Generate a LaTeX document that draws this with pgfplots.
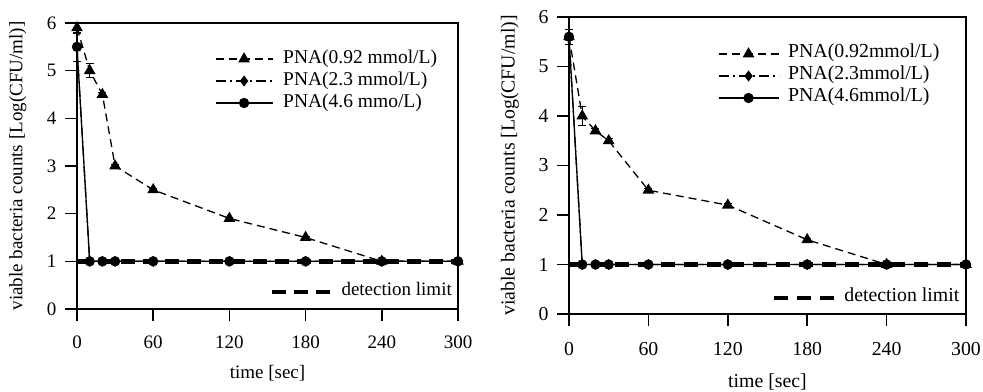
\documentclass[border=0pt]{standalone}
\usepackage{fontspec}
\setmainfont{Liberation Serif}
\usepackage{pgfplots}
\pgfplotsset{compat=1.18}
\newcommand{\sizeLeft}{\fontsize{19bp}{22bp}\selectfont}
\newcommand{\sizeLeg}{\fontsize{19.5bp}{22bp}\selectfont}
\newcommand{\sizeRight}{\fontsize{19.8bp}{23bp}\selectfont}
\pgfplotsset{
  mystyle/.style={
    scale only axis, xmin=0, xmax=300, ymin=0, ymax=6,
    xtick={0,60,120,180,240,300}, ytick={0,1,2,3,4,5,6},
    tick align=outside, tick pos=left,
    major tick length=12bp,
    axis line style={line width=1.6bp},
    tick style={line width=1.6bp, black},
    /pgf/number format/assume math mode=true,
    clip=false,
    xticklabel style={yshift=-8bp},
    yticklabel style={xshift=-2bp},
    every axis y label/.style={at={(axis description cs:#1,0.5)}, rotate=90, anchor=center},
    every axis x label/.style={at={(axis description cs:0.5,-0.224)}, anchor=center},
    legend cell align=left,
    legend style={draw=none, fill=none, inner sep=0pt, outer sep=0pt, row sep=0pt,
      anchor=north west,
      nodes={inner sep=0pt, text height=15bp, text depth=7bp}},
  },
  hid/.style={scale only axis, xmin=0,xmax=300,ymin=0,ymax=6, hide axis, clip=false,
    legend cell align=left,
    legend style={draw=none, fill=none, inner sep=0pt, outer sep=0pt, anchor=north west,
      nodes={inner sep=0pt, text height=15bp, text depth=7bp}}},
  sA/.style={black, line width=1.3bp, dash pattern=on 8bp off 5bp, mark=triangle*, mark size=5.5bp, mark options={solid, fill=black}},
  sB/.style={black, line width=1.3bp, dash pattern=on 10bp off 4bp on 2bp off 4bp, mark=diamond*, mark size=4.5bp, mark options={solid, fill=black}},
  sC/.style={black, line width=1.3bp, solid, mark=*, mark size=4.5bp, mark options={solid, fill=black}},
  eb/.style={error bars/.cd, y dir=both, y explicit, error bar style={line width=1bp, solid}, error mark options={rotate=90, mark size=4bp, line width=1bp, solid}},
  dl/.style={black, line width=4.5bp, dash pattern=on 14bp off 8bp},
}
\begin{document}
\sizeLeft
\begin{tikzpicture}[font=\sizeLeft]
\useasboundingbox (0bp,0bp) rectangle (983bp,-392bp);
% ---------- left ----------
\begin{axis}[hid, at={(77bp,-309bp)}, anchor=south west, width=381bp, height=286bp,
  legend style={at={(axis description cs:0.5066,0.098)}, font=\sizeLeft, column sep=9bp},
  legend image code/.code={\draw[#1] (0bp,0bp) -- (58bp,0bp);}]
\addplot[dl] coordinates {(0,1) (300,1)};
\addlegendentry{detection limit}
\end{axis}
\begin{axis}[mystyle={-0.155}, at={(77bp,-309bp)}, anchor=south west, width=381bp, height=286bp,
  xlabel={time [sec]}, ylabel={viable bacteria counts [Log(CFU/ml)]},
  tick label style={font=\sizeLeft}, label style={font=\sizeLeft},
  legend style={at={(axis description cs:0.362,0.9126)}, column sep=10bp, font=\sizeLeg},
  legend image code/.code={\draw[mark repeat=2, mark phase=2, #1] plot coordinates {(0bp,0bp) (28.5bp,0bp) (57bp,0bp)};}]
\addplot[sA, eb] coordinates {(0,5.9) +- (0,0.12) (10,5.0) +- (0,0.15) (20,4.5) +- (0,0.05) (30,3.0) +- (0,0.03) (60,2.5) +- (0,0.03) (120,1.9) +- (0,0.03) (180,1.5) +- (0,0.03) (240,1.0) +- (0,0) (300,1.0) +- (0,0)};
\addlegendentry{PNA(0.92 mmol/L)}
\addplot[sB] coordinates {(0,5.5) (10,1) (20,1) (30,1) (60,1) (120,1) (180,1) (240,1) (300,1)};
\addlegendentry{PNA(2.3 mmol/L)}
\addplot[sC, eb] coordinates {(0,5.5) +- (0,0.3) (10,1) +- (0,0) (20,1) +- (0,0) (30,1) +- (0,0) (60,1) +- (0,0) (120,1) +- (0,0) (180,1) +- (0,0) (240,1) +- (0,0) (300,1) +- (0,0)};
\addlegendentry{PNA(4.6 mmo/L)}
\end{axis}
% ---------- right ----------
\begin{axis}[hid, at={(569bp,-314bp)}, anchor=south west, width=397bp, height=297bp,
  legend style={at={(axis description cs:0.511,0.091)}, font=\sizeRight, column sep=8bp},
  legend image code/.code={\draw[#1] (0bp,0bp) -- (60bp,0bp);}]
\addplot[dl, dash pattern=on 14bp off 9bp] coordinates {(0,1) (300,1)};
\addlegendentry{detection limit}
\end{axis}
\begin{axis}[mystyle={-0.1486}, at={(569bp,-314bp)}, anchor=south west, width=397bp, height=297bp,
  xlabel={time [sec]}, ylabel={viable bacteria counts [Log(CFU/ml)]},
  every axis x label/.style={at={(axis description cs:0.5,-0.229)}, anchor=center},
  xticklabel style={yshift=-2bp},
  tick label style={font=\sizeRight}, label style={font=\sizeRight},
  legend style={at={(axis description cs:0.375,0.9125)}, column sep=9bp, font=\sizeRight},
  legend image code/.code={\draw[mark repeat=2, mark phase=2, #1] plot coordinates {(0bp,0bp) (30bp,0bp) (60bp,0bp)};}]
\addplot[sA, eb] coordinates {(0,5.6) +- (0,0.15) (10,4.0) +- (0,0.2) (20,3.7) +- (0,0.05) (30,3.5) +- (0,0.05) (60,2.5) +- (0,0.03) (120,2.2) +- (0,0.03) (180,1.5) +- (0,0.03) (240,1.0) +- (0,0) (300,1.0) +- (0,0)};
\addlegendentry{PNA(0.92mmol/L)}
\addplot[sB] coordinates {(0,5.6) (10,1) (20,1) (30,1) (60,1) (120,1) (180,1) (240,1) (300,1)};
\addlegendentry{PNA(2.3mmol/L)}
\addplot[sC, eb] coordinates {(0,5.6) +- (0,0.15) (10,1) +- (0,0) (20,1) +- (0,0) (30,1) +- (0,0) (60,1) +- (0,0) (120,1) +- (0,0) (180,1) +- (0,0) (240,1) +- (0,0) (300,1) +- (0,0)};
\addlegendentry{PNA(4.6mmol/L)}
\end{axis}
\end{tikzpicture}
\end{document}
